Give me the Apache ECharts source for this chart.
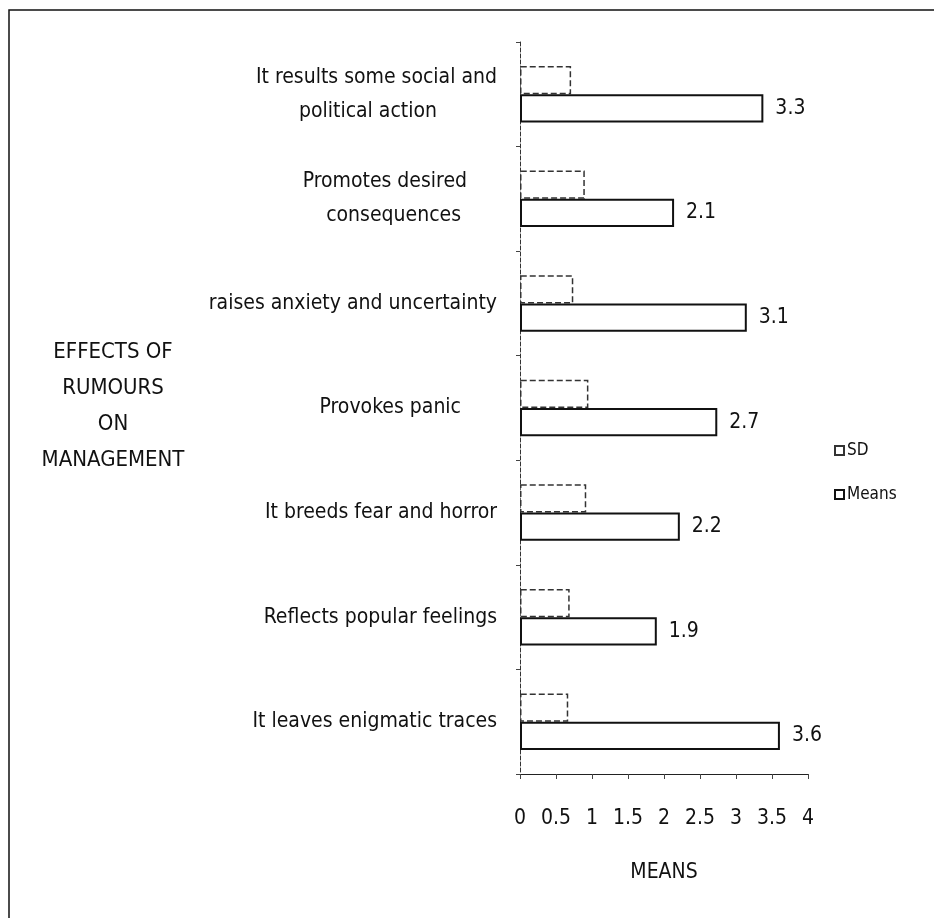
<!DOCTYPE html>
<html>
<head>
<meta charset="utf-8">
<script src="https://cdn.jsdelivr.net/npm/echarts@6/dist/echarts.min.js"></script>
<style>
html,body{margin:0;padding:0;background:#fff;}
#chart{width:934px;height:918px;}
</style>
</head>
<body>
<div id="chart"></div>
<script>
var categories = [
  'It results some social and\npolitical action          ',
  'Promotes desired     \nconsequences      ',
  'raises anxiety and uncertainty',
  'Provokes panic      ',
  'It breeds fear and horror',
  'Reflects popular feelings',
  'It leaves enigmatic traces'
];
var sdValues = [0.71, 0.90, 0.74, 0.95, 0.92, 0.69, 0.67];
var meanValues = [3.38, 2.14, 3.15, 2.74, 2.22, 1.90, 3.61];
var meanLabels = ['3.3', '2.1', '3.1', '2.7', '2.2', '1.9', '3.6'];
var xTicks = { min: 0, max: 4, interval: 0.5 };

var FONT = "'Liberation Sans Narrow', 'DejaVu Sans Condensed', 'Liberation Sans', sans-serif";

var chart = echarts.init(document.getElementById('chart'), null, { renderer: 'canvas' });
chart.setOption({
  backgroundColor: '#ffffff',
  animation: false,
  textStyle: { fontFamily: FONT, color: '#111' },
  grid: { left: 520, right: 126, top: 42, bottom: 144, containLabel: false },
  legend: {
    orient: 'vertical',
    left: 829,
    top: 437,
    itemWidth: 9,
    itemHeight: 9,
    itemGap: 27,
    icon: 'rect',
    textStyle: { fontFamily: FONT, fontSize: 17, color: '#111', padding: [0, 0, 0, -2] },
    data: ['SD', 'Means']
  },
  xAxis: {
    type: 'value',
    min: xTicks.min,
    max: xTicks.max,
    interval: xTicks.interval,
    name: 'MEANS',
    nameLocation: 'middle',
    nameGap: 88,
    nameTextStyle: { fontFamily: FONT, fontSize: 21, color: '#111' },
    axisLine: { show: true, lineStyle: { color: '#222', width: 1.2 } },
    axisTick: { show: true, length: 5, lineStyle: { color: '#444' } },
    axisLabel: { margin: 34, fontFamily: FONT, fontSize: 21, color: '#111' },
    splitLine: { show: false }
  },
  yAxis: {
    type: 'category',
    inverse: true,
    data: categories,
    axisLine: { show: true, lineStyle: { color: '#333', width: 1, type: 'dashed' } },
    axisTick: { show: true, length: 4, lineStyle: { color: '#444' } },
    axisLabel: { margin: 23, fontFamily: FONT, fontSize: 21, color: '#111', lineHeight: 34, align: 'right' }
  },
  series: [
    {
      name: 'SD',
      type: 'bar',
      data: sdValues,
      barGap: '0%',
      barCategoryGap: '46%',
      itemStyle: { color: '#ffffff', borderColor: '#333', borderWidth: 1.5, borderType: 'dashed' }
    },
    {
      name: 'Means',
      type: 'bar',
      data: meanValues,
      barGap: '0%',
      barCategoryGap: '46%',
      itemStyle: { color: '#ffffff', borderColor: '#111', borderWidth: 2 },
      label: {
        show: true,
        position: 'right',
        distance: 12,
        fontFamily: FONT,
        fontSize: 21,
        color: '#111',
        formatter: function (p) { return meanLabels[p.dataIndex]; }
      }
    }
  ],
  graphic: [
    {
      type: 'rect',
      shape: { x: 9, y: 10, width: 940, height: 920 },
      style: { fill: 'none', stroke: '#111', lineWidth: 1.5 },
      silent: true
    },
    {
      type: 'text',
      x: 113,
      y: 406,
      style: {
        text: 'EFFECTS OF\nRUMOURS\nON\nMANAGEMENT',
        fontFamily: FONT,
        fontSize: 22,
        lineHeight: 36,
        fill: '#111',
        align: 'center',
        verticalAlign: 'middle'
      }
    }
  ]
});
</script>
</body>
</html>
